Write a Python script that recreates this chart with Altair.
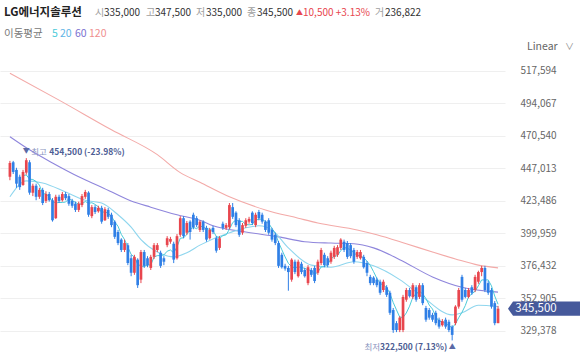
import altair as alt
import pandas as pd

# ---------------- data (KRW) ----------------
opens = [441000,451500,446000,441000,435000,444000,451500,429500,434500,426500,
431500,423500,428500,424000,411000,426500,424000,428500,427000,423500,
421500,417000,420500,426500,429500,412500,419000,416000,418500,409500,
417000,413500,408500,401000,395500,388000,391500,382000,371500,381000,
366500,386500,382000,375000,383000,388000,386000,382000,391500,394000,
392500,382000,399000,411000,400500,408500,413500,411000,402500,408500,
404000,396500,404000,396500,389500,407000,404000,404500,419000,415000,
409500,400500,405500,408500,415000,406000,415500,413500,408500,409500,
402500,399000,393000,384500,376500,375000,366500,379500,369000,378000,
373500,364000,373500,375000,371500,378500,384500,382000,379500,383000,
384500,389500,394000,393000,391500,388000,383000,382000,383000,378500,
368500,368000,366500,365000,359000,361000,357000,344500,335000,330000,
330000,352000,359000,354000,361000,354000,362500,346000,344500,341000,
342500,337500,333500,337500,336000,332500,335000,347000,368500,359000,
354000,361000,359000,365000,372000,375000,364000,359000,349500,335000]

closes = [451000,444500,436000,433500,444500,453000,429500,434500,426500,431500,
422000,428500,424000,409500,426500,423500,428500,425500,421500,420000,
417000,421500,427000,430000,413500,419000,415500,418500,408500,417500,
412000,406000,397500,393000,388000,393000,378500,371500,383000,362500,
386500,376500,377000,383000,391500,391500,376500,379500,396500,396000,
381000,398000,411000,398000,407500,401000,404500,406000,408500,402500,
395500,402500,401000,387500,396500,404000,406000,420500,412000,406000,
399000,406000,409500,410500,407500,413500,411000,408500,402500,400500,
395500,393000,376500,375500,374500,372000,381000,372000,379500,372000,
369000,375500,370000,365500,379500,388000,377000,377000,386000,389500,
390000,395500,388000,383000,383500,379500,386500,386500,375500,371500,
364000,364000,362500,357000,365000,355500,342500,330000,330000,339000,
354000,359000,354500,362500,352000,362500,349500,337500,339000,337500,
335000,332500,336500,332500,330000,326500,347000,359000,352000,354000,
359000,357000,368500,372000,375000,359000,357000,347000,335000,345500]

highs = [452500,452500,447500,442500,446000,454500,453000,436000,436000,433000,
433000,430500,430000,425500,428000,428000,430000,430000,428500,425000,
423000,423000,428500,431500,430500,420500,420500,420000,420000,419000,
418500,415000,409500,402500,396500,395500,393000,384500,384500,382000,
388000,388000,383500,384500,393000,393000,387500,383500,398000,397500,
394000,399500,412500,412500,409000,409500,415000,412500,409500,409500,
405500,404000,405500,398000,398000,408500,407500,422000,422000,416000,
411000,407500,411000,412000,416000,415000,417000,415000,409500,411000,
404000,400500,394500,386000,378000,376500,382000,381000,381000,379500,
375000,377000,375000,376500,381000,389500,386000,383500,387500,391000,
391500,396500,395500,394500,393000,389500,388000,388000,384500,380000,
370000,369000,368000,366500,366500,362500,358500,346000,336500,340000,
355500,360500,360500,364000,362500,364000,364000,347500,346000,342500,
344000,339000,338000,339000,337500,333500,348000,360500,370000,360500,
360500,362500,370000,373000,376500,376500,365500,360500,351000,347500]

lows = [438500,443000,433000,431500,434500,442500,428000,427000,424000,425000,
420500,422000,423000,408500,410500,422000,423000,424000,420000,418500,
415500,415500,419000,425000,412000,411000,414000,415000,407000,409000,
410500,404500,396000,391500,386500,386500,377000,369000,370000,360500,
364000,375000,375500,373500,381500,386500,375000,377000,390000,392500,
378500,381000,397500,396500,399000,395500,403000,404500,401000,401000,
394000,395500,399500,386000,388000,402500,402500,403000,410500,404500,
397500,399000,404000,407000,406000,404500,409500,407000,401000,399000,
394000,391500,375000,374500,373000,358500,365000,370500,368000,370500,
368000,362500,368500,364000,370000,377000,375500,375500,378000,381500,
383000,388000,386500,381500,382000,378000,381500,381000,374500,369000,
362500,362500,361000,355500,357500,354000,341000,328000,328500,328500,
328500,350500,353500,352500,350500,352500,348000,336000,337500,336000,
333500,331000,332500,331000,328500,322500,333500,345500,350500,353000,
353000,355500,357500,363500,369000,357500,355500,345500,333500,335000]

ma20_idx = [0,5,10,17,23,28,33,37,40,45,50,54,58,67,76,80,85,92,98,105,111,119,126,135,138,143,149]
ma20_val = [426500,438000,436500,430000,424000,422000,413500,404500,395500,386500,383000,386000,391500,
            400500,405500,402500,389500,377000,375500,379500,376500,366500,354000,341000,342500,348000,347000]
ma60_idx = [0,6,13,21,28,37,43,51,58,62,72,82,90,98,105,111,119,129,138,149]
ma60_val = [470000,460500,451000,441000,433500,423500,419000,413500,409500,405500,401000,397500,394000,
            393000,392500,389500,381000,368500,361000,357500]
ma120_idx = [0,15,31,45,52,58,67,78,88,94,106,112,121,129,136,143,149]
ma120_val = [516000,496500,475000,457000,444000,437000,426500,417000,411000,407500,402500,399000,392500,
             386500,381500,377000,375000]

tick_values = [329378, 352905, 376432, 399959, 423486, 447013, 470540, 494067, 517594]
high_idx, high_val = 5, 454500
low_idx, low_val = 135, 322500
last_close = 345500

# ---------------- styling ----------------
FONT = "Noto Sans CJK KR"
RED = "#e8464e"
BLUE = "#2f7fe6"
C_MA5 = "#4ccbd9"
C_MA20 = "#8fd6ee"
C_MA60 = "#8f86dc"
C_MA120 = "#f3aaa8"
W, H, TOP, RIGHT = 505, 295, 62, 75

df = pd.DataFrame({"i": list(range(len(closes))), "open": opens, "high": highs,
                   "low": lows, "close": closes})
df["dir"] = ["up" if c >= o else "down" for o, c in zip(opens, closes)]

xs = alt.Scale(domain=[-1.5, 149.6], nice=False, zero=False)
ys = alt.Scale(domain=[310500, 524100], nice=False, zero=False)
yaxis = alt.Axis(orient="right", values=tick_values, format=",d", grid=True,
                 gridColor="#efefef", gridWidth=1, domain=False, ticks=False,
                 labelColor="#666666", labelFontSize=10, labelFont=FONT,
                 labelPadding=15, title=None)


def X(f="i:Q"):
    return alt.X(f, scale=xs, axis=None)


def Y(f):
    return alt.Y(f, scale=ys, axis=yaxis, title=None)


color = alt.Color("dir:N", scale=alt.Scale(domain=["up", "down"], range=[RED, BLUE]), legend=None)

base = alt.Chart(df)
wicks = base.mark_rule(strokeWidth=1).encode(x=X(), y=Y("low:Q"), y2="high:Q", color=color)
bodies = base.mark_bar(size=2.7).encode(x=X(), y=Y("open:Q"), y2="close:Q", color=color)

ma5 = (base.transform_window(ma5="mean(close)", frame=[-4, 0], sort=[alt.SortField("i")])
       .transform_filter("datum.i >= 4")
       .mark_line(color=C_MA5, strokeWidth=1).encode(x=X(), y=Y("ma5:Q")))


def ma_line(idx, val, col):
    d = pd.DataFrame({"i": idx, "v": val})
    return alt.Chart(d).mark_line(color=col, strokeWidth=1.1, interpolate="monotone").encode(
        x=X(), y=Y("v:Q"))


ma20 = ma_line(ma20_idx, ma20_val, C_MA20)
ma60 = ma_line(ma60_idx, ma60_val, C_MA60)
ma120 = ma_line(ma120_idx, ma120_val, C_MA120)

# high / low annotations
hd = pd.DataFrame({"i": [high_idx], "v": [high_val], "a": ["▼"], "b": ["최고"], "c": ["454,500 (-23.98%)"]})
hi_tri = alt.Chart(hd).mark_text(fontSize=7, color="#5a6aa6", dy=-7, font=FONT).encode(x=X(), y=Y("v:Q"), text="a:N")
hi_t1 = alt.Chart(hd).mark_text(fontSize=8.5, color="#8a95c0", dy=-6, dx=5, align="left", font=FONT).encode(x=X(), y=Y("v:Q"), text="b:N")
hi_t2 = alt.Chart(hd).mark_text(fontSize=8.5, color="#4d5d94", dy=-6, dx=23, align="left", fontWeight="bold", font=FONT).encode(x=X(), y=Y("v:Q"), text="c:N")

ld = pd.DataFrame({"i": [low_idx], "v": [low_val], "a": ["▲"], "b": ["최저"], "c": ["322,500 (7.13%)"]})
lo_tri = alt.Chart(ld).mark_text(fontSize=7, color="#5a6aa6", dy=7, font=FONT).encode(x=X(), y=Y("v:Q"), text="a:N")
lo_t2 = alt.Chart(ld).mark_text(fontSize=8.5, color="#4d5d94", dy=7, dx=-5, align="right", fontWeight="bold", font=FONT).encode(x=X(), y=Y("v:Q"), text="c:N")
lo_t1 = alt.Chart(ld).mark_text(fontSize=8.5, color="#8a95c0", dy=7, dx=-72, align="right", font=FONT).encode(x=X(), y=Y("v:Q"), text="b:N")

# current price tag
pd_last = pd.DataFrame({"v": [last_close], "t": ["345,500"]})
tag_path = "M-1,0 L-0.86,-0.2 L1,-0.2 L1,0.2 L-0.86,0.2 Z"
tag = alt.Chart(pd_last).mark_point(shape=tag_path, size=72 * 72, filled=True, opacity=1,
                                     color="#46599b", strokeWidth=0).encode(x=alt.value(544), y=Y("v:Q"))
tag_txt = alt.Chart(pd_last).mark_text(color="white", fontSize=11.5, font=FONT, align="center").encode(
    x=alt.value(536), y=Y("v:Q"), text="t:N")


def label(text, x, y, col="#333333", size=10, weight="normal", align="left"):
    return alt.Chart(pd.DataFrame({"t": [text]})).mark_text(
        align=align, baseline="middle", font=FONT, fontSize=size, fontWeight=weight, color=col
    ).encode(x=alt.value(x), y=alt.value(y - TOP), text="t:N")


GREY = "#a0a0a0"
header = [
    label("LG에너지솔루션", 4, 13, "#222222", 11.5, "bold"),
    label("시", 95, 13, GREY), label("335,000", 104, 13),
    label("고", 146, 13, GREY), label("347,500", 155, 13),
    label("저", 196, 13, GREY), label("335,000", 206, 13),
    label("종", 247, 13, GREY), label("345,500", 257, 13),
    label("▲", 296, 13, RED, 7), label("10,500 +3.13%", 303, 13, RED),
    label("거", 375, 13, GREY), label("236,822", 385, 13),
    label("이동평균", 4, 34, "#777777", 10.5),
    label("5", 52, 34, C_MA5, 10.5), label("20", 60, 34, "#5fb4e6", 10.5),
    label("60", 75, 34, "#7a70d0", 10.5), label("120", 89, 34, "#ef8f8f", 10.5),
    label("Linear", 527, 47, "#666666", 10.5),
    label("∨", 565, 47, "#888888", 9),
]

chart = alt.layer(
    ma120, ma60, ma20, ma5, wicks, bodies,
    hi_tri, hi_t1, hi_t2, lo_tri, lo_t1, lo_t2, tag, tag_txt, *header
).properties(
    width=W, height=H,
    autosize=alt.AutoSizeParams(type="none"),
    padding={"left": 0, "top": TOP, "right": RIGHT, "bottom": 0},
    background="white",
).configure_view(stroke=None)

chart.save("out.html", embed_options={"renderer": "svg", "actions": False})
